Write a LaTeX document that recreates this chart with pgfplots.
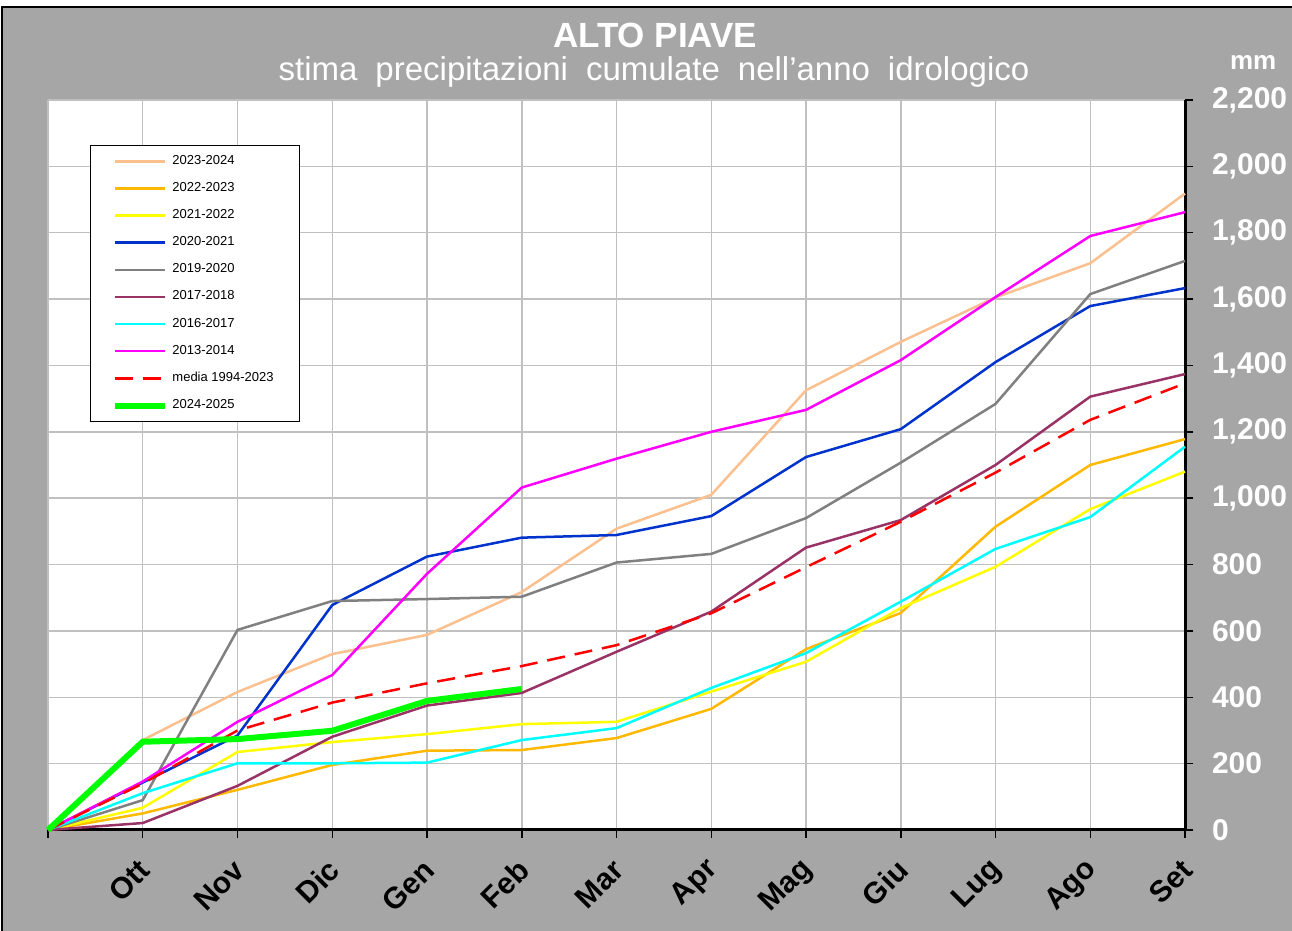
\documentclass[border=0pt]{standalone}
\usepackage{pgfplots}
\pgfplotsset{compat=1.18}
\usepackage{fontspec}
\setmainfont{Liberation Sans}

\definecolor{bggray}{RGB}{166,166,166}
\definecolor{gridgray}{RGB}{192,192,192}
\definecolor{peach}{RGB}{250,192,143}
\definecolor{gold}{RGB}{255,185,0}
\definecolor{yel}{RGB}{255,255,0}
\definecolor{blu}{RGB}{0,51,204}
\definecolor{gry}{RGB}{128,128,128}
\definecolor{plum}{RGB}{153,51,102}
\definecolor{cya}{RGB}{0,255,255}
\definecolor{mag}{RGB}{255,0,255}
\definecolor{grn}{RGB}{0,255,0}
\newcommand{\ws}{\hspace{9pt}}

\begin{document}
\begin{tikzpicture}
\useasboundingbox (-24pt,-50.5pt) rectangle (622pt,415pt);
\fill[white] (-24pt,-50.5pt) rectangle (622pt,415pt);
\filldraw[fill=bggray, draw=black, line width=0.8pt] (-23pt,-70pt) rectangle (640pt,411.5pt);
\begin{axis}[
    scale only axis,
    width=568.5pt, height=365pt,
    xmin=0, xmax=12, ymin=0, ymax=2200,
    axis x line*=bottom, axis y line*=right,
    axis line style={black, line width=1.5pt},
    axis background/.style={fill=white},
    xtick={0,...,12},
    xticklabels={,Ott,Nov,Dic,Gen,Feb,Mar,Apr,Mag,Giu,Lug,Ago,Set},
    ytick={0,200,...,2200},
    grid=major,
    grid style={line width=0.75pt, color=gridgray},
    tick align=outside, major tick length=4pt,
    tick style={black, line width=0.75pt},
    /pgf/number format/assume math mode=true,
    /pgf/number format/1000 sep={,},
    yticklabel style={font=\fontsize{15}{15}\selectfont\bfseries, text=white, anchor=west, xshift=6pt},
    xticklabel style={font=\fontsize{15}{15}\selectfont\bfseries, rotate=45, anchor=east,
      xshift=-5.4pt, yshift=-10.3pt},
    no markers,
    clip=false,
    legend style={at={(0.0369,0.9384)}, anchor=north west, draw=black, line width=0.5pt,
      fill=white, font=\fontsize{6.5}{7}\selectfont, inner xsep=11pt, inner ysep=3pt,
      row sep=3.5pt},
    legend cell align=left,
    legend image code/.code={\draw[#1] (0pt,0pt) -- (25pt,0pt);},
  ]
  \addplot[peach, line width=1.25pt] coordinates {
    (0,0) (1,271) (2,416) (3,530) (4,588) (5,717) (6,908) (7,1010) (8,1325) (9,1471) (10,1605) (11,1708) (12,1918)};
  \addlegendentry{2023-2024}
  \addplot[gold, line width=1.25pt] coordinates {
    (0,0) (1,50) (2,121) (3,196) (4,239) (5,241) (6,277) (7,365) (8,545) (9,654) (10,914) (11,1100) (12,1178)};
  \addlegendentry{2022-2023}
  \addplot[yel, line width=1.25pt] coordinates {
    (0,0) (1,67) (2,235) (3,265) (4,289) (5,319) (6,326) (7,417) (8,507) (9,669) (10,793) (11,967) (12,1080)};
  \addlegendentry{2021-2022}
  \addplot[blu, line width=1.25pt] coordinates {
    (0,0) (1,143) (2,285) (3,678) (4,824) (5,881) (6,889) (7,946) (8,1124) (9,1208) (10,1410) (11,1579) (12,1633)};
  \addlegendentry{2020-2021}
  \addplot[gry, line width=1.25pt] coordinates {
    (0,0) (1,90) (2,603) (3,690) (4,696) (5,703) (6,806) (7,832) (8,940) (9,1107) (10,1284) (11,1615) (12,1715)};
  \addlegendentry{2019-2020}
  \addplot[plum, line width=1.25pt] coordinates {
    (0,0) (1,21) (2,133) (3,281) (4,375) (5,413) (6,537) (7,658) (8,851) (9,934) (10,1100) (11,1306) (12,1374)};
  \addlegendentry{2017-2018}
  \addplot[cya, line width=1.25pt] coordinates {
    (0,0) (1,111) (2,201) (3,201) (4,203) (5,271) (6,307) (7,428) (8,533) (9,688) (10,847) (11,943) (12,1155)};
  \addlegendentry{2016-2017}
  \addplot[mag, line width=1.25pt] coordinates {
    (0,0) (1,146) (2,326) (3,467) (4,772) (5,1032) (6,1119) (7,1200) (8,1266) (9,1416) (10,1606) (11,1790) (12,1862)};
  \addlegendentry{2013-2014}
  \addplot[red, line width=1.25pt, dash pattern=on 9pt off 5pt] coordinates {
    (0,0) (1,140) (2,300) (3,384) (4,442) (5,494) (6,557) (7,653) (8,792) (9,929) (10,1077) (11,1236) (12,1346)};
  \addlegendentry{media 1994-2023}
  \addplot[grn, line width=3pt] coordinates {
    (0,0) (1,266) (2,274) (3,299) (4,389) (5,425)};
  \addlegendentry{2024-2025}

  \node[text=white, font=\fontsize{17.5}{17.5}\selectfont\bfseries] at (rel axis cs:0.534,1.089) {ALTO PIAVE};
  \node[text=white, font=\fontsize{16.5}{16.5}\selectfont] at (rel axis cs:0.533,1.038)
    {stima\ws precipitazioni\ws cumulate\ws nell\symbol{"27}anno\ws idrologico};
  \node[text=white, font=\fontsize{13}{13}\selectfont\bfseries] at (rel axis cs:1.060,1.052) {mm};
\end{axis}
\end{tikzpicture}
\end{document}
